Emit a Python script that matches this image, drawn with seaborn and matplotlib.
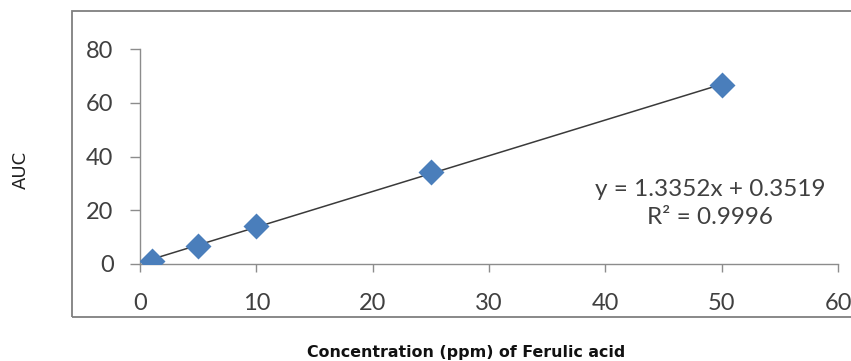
import matplotlib
matplotlib.use("Agg")
import matplotlib.pyplot as plt
import matplotlib.patches as patches
import seaborn as sns
import pandas as pd

# calibration data
concentration = [1, 5, 10, 25, 50]
auc = [1.2, 6.8, 14.3, 34.2, 66.5]
x_ticks = [0, 10, 20, 30, 40, 50, 60]
y_ticks = [0, 20, 40, 60, 80]
equation_text = "y = 1.3352x + 0.3519\nR² = 0.9996"

df = pd.DataFrame({"conc": concentration, "auc": auc})

sns.set_style("white")
plt.rcParams["font.family"] = ["Lato", "DejaVu Sans"]

fig = plt.figure(figsize=(8.51, 3.61), dpi=100)

# outer chart border like the spreadsheet chart area
fig.patches.append(patches.Rectangle((72 / 851, 1 - 317 / 361), 1.0, (317 - 11) / 361,
                                     transform=fig.transFigure, fill=False,
                                     edgecolor="#7f7f7f", linewidth=1.3))

ax = fig.add_axes([140 / 851, 97 / 361, (838 - 140) / 851, (264 - 49) / 361])

sns.regplot(data=df, x="conc", y="auc", ax=ax, scatter=False, ci=None, truncate=True,
            line_kws={"color": "#3a3a3a", "linewidth": 1.1})
sns.scatterplot(data=df, x="conc", y="auc", ax=ax, marker="D", s=175,
                color="#4a7ebb", edgecolor="#4a7ebb", linewidth=0, zorder=3)

ax.set_xlim(0, 60)
ax.set_ylim(0, 80)
ax.set_xticks(x_ticks)
ax.set_yticks(y_ticks)
ax.set_xlabel("")
ax.set_ylabel("")

for side in ["top", "right"]:
    ax.spines[side].set_visible(False)
for side in ["left", "bottom"]:
    ax.spines[side].set_color("#8c8c8c")
    ax.spines[side].set_linewidth(1.0)

ax.tick_params(axis="x", bottom=True, direction="out", length=6, width=1, color="#8c8c8c",
               labelsize=17, labelcolor="#404040", pad=15)
ax.tick_params(axis="y", left=True, direction="out", length=7, width=1, color="#8c8c8c",
               labelsize=17, labelcolor="#404040", pad=12)

ax.text(49, 22.5, equation_text, ha="center", va="center", fontsize=17.5,
        color="#404040", linespacing=1.45)

fig.text(21 / 851, 1 - 170 / 361, "AUC", rotation=90, ha="center", va="center",
         fontsize=13, color="#202020", family=["Liberation Sans Narrow", "DejaVu Sans"])
fig.text(466 / 851, 1 - 353 / 361, "Concentration (ppm) of Ferulic acid",
         ha="center", va="center", fontsize=11.4, fontweight="bold", color="#111111",
         family=["DejaVu Sans"])

fig.savefig("out.png", dpi=100)
